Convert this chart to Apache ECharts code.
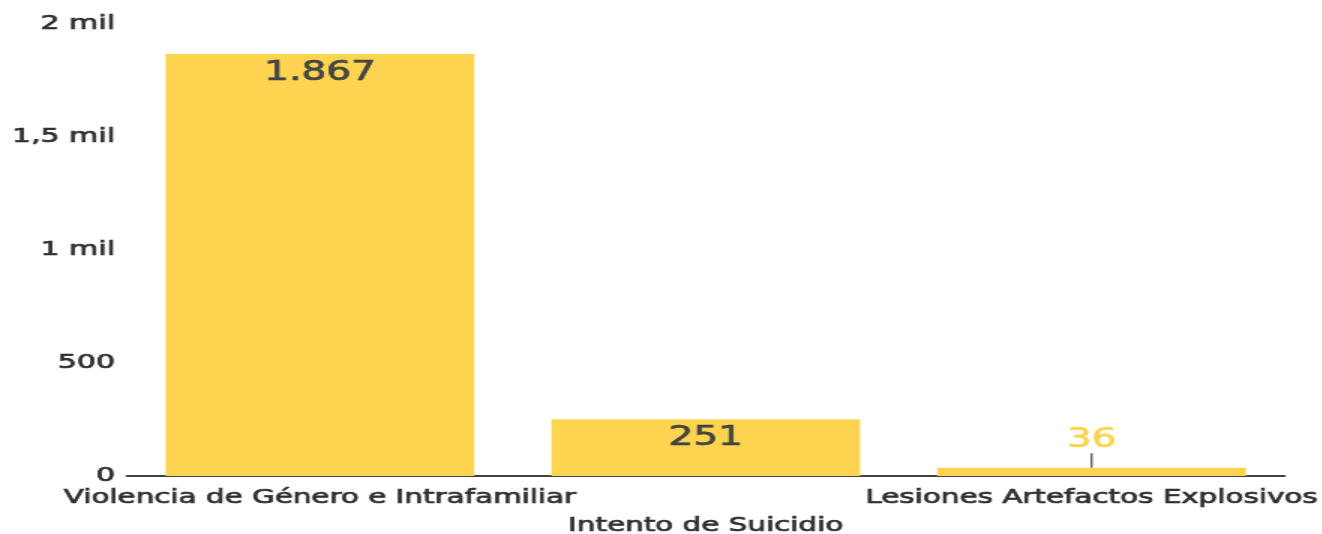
<!DOCTYPE html>
<html><head><meta charset="utf-8">
<script src="https://cdn.jsdelivr.net/npm/echarts@6/dist/echarts.min.js"></script>
<style>html,body{margin:0;padding:0;background:#fff;overflow:hidden}
#wrap{width:1322px;height:534px;overflow:hidden}
#c{width:881px;height:534px;transform:scaleX(1.5);transform-origin:0 0}</style>
</head><body><div id="wrap"><div id="c"></div></div>
<script>
const categories = ['Violencia de Género e Intrafamiliar', 'Intento de Suicidio', 'Lesiones Artefactos Explosivos'];
const values = [1867, 251, 36];
const yTicks = {0: '0', 500: '500', 1000: '1 mil', 1500: '1,5 mil', 2000: '2 mil'};

const chart = echarts.init(document.getElementById('c'));
const FONT = 'DejaVu Sans';
const thick = c => ({color: c, textBorderColor: c, textBorderWidth: 0.7});
chart.setOption({
  animation: false,
  grid: {left: 84.7, right: 24.7, top: 24, bottom: 58, containLabel: false, outerBoundsMode: 'none'},
  xAxis: {
    type: 'category', data: categories,
    axisLine: {lineStyle: {color: '#444', width: 2}},
    axisTick: {show: false},
    axisLabel: Object.assign({interval: 0, fontFamily: FONT, fontSize: 19.6, margin: 8, lineHeight: 28,
      formatter: (v, i) => i === 1 ? '\n' + v : v}, thick('#2e2e2e'))
  },
  yAxis: {
    type: 'value', min: 0, max: 2000, interval: 500,
    axisLine: {show: false}, axisTick: {show: false}, splitLine: {show: false},
    axisLabel: Object.assign({fontFamily: FONT, fontSize: 20, margin: 8,
      formatter: v => yTicks[v]}, thick('#2e2e2e'))
  },
  series: [{
    type: 'bar', barCategoryGap: '20%',
    data: values.map((v, i) => i === 2 ? {
      value: v,
      label: {position: 'top', distance: 2, color: '#fdd44f', textBorderColor: '#fdd44f'}
    } : v),
    itemStyle: {color: '#fdd44f'},
    label: Object.assign({show: true, position: 'insideTop', distance: 6, fontFamily: FONT, fontSize: 26,
      formatter: p => p.value.toLocaleString('de-DE')}, thick('#444')),
    labelLayout: p => p.dataIndex === 2 ? {dy: -13} : {},
    labelLine: {show: true, lineStyle: {color: '#666', width: 1.5}}
  }]
});
</script></body></html>
